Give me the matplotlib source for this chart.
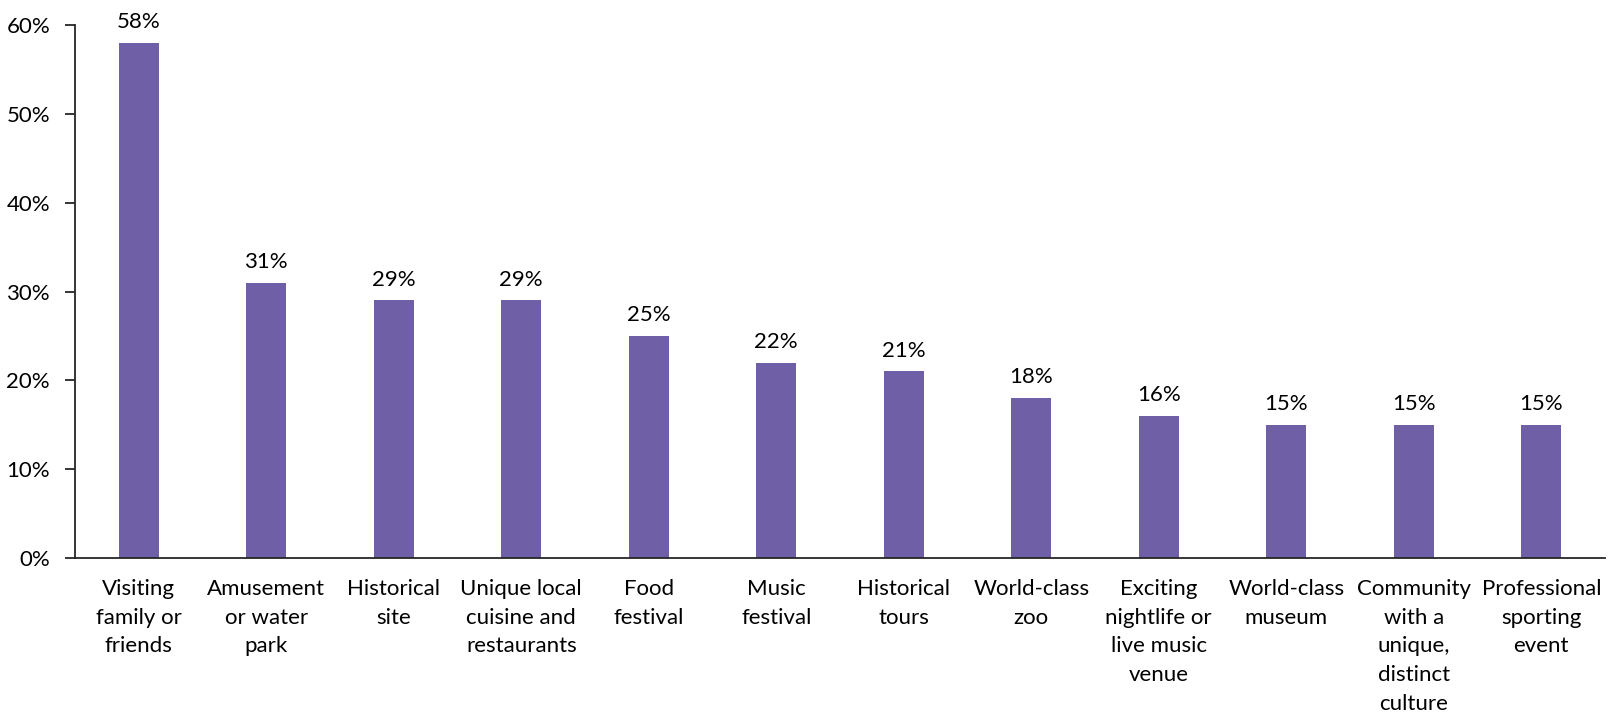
import matplotlib.pyplot as plt
from matplotlib.ticker import PercentFormatter

plt.rcParams["font.family"] = ["Lato", "DejaVu Sans"]

categories = [
    "Visiting\nfamily or\nfriends",
    "Amusement\nor water\npark",
    "Historical\nsite",
    "Unique local\ncuisine and\nrestaurants",
    "Food\nfestival",
    "Music\nfestival",
    "Historical\ntours",
    "World-class\nzoo",
    "Exciting\nnightlife or\nlive music\nvenue",
    "World-class\nmuseum",
    "Community\nwith a\nunique,\ndistinct\nculture",
    "Professional\nsporting\nevent",
]
shares = [58, 31, 29, 29, 25, 22, 21, 18, 16, 15, 15, 15]

fig = plt.figure(figsize=(16.12, 7.18), dpi=100)
ax = fig.add_axes([75 / 1612, 1 - 558 / 718, (1605 - 75) / 1612, (558 - 25) / 718])

x = range(len(categories))
bars = ax.bar(x, shares, width=0.31, color="#6E5FA6")
for rect, v in zip(bars, shares):
    ax.text(rect.get_x() + rect.get_width() / 2, v + 1.2, f"{v}%",
            ha="center", va="bottom", fontsize=16, color="#000000")

ax.set_xlim(-0.5, len(categories) - 0.5)
ax.set_ylim(0, 60)
ax.set_yticks(range(0, 61, 10))
ax.yaxis.set_major_formatter(PercentFormatter(decimals=0))
ax.set_xticks(list(x))
ax.set_xticklabels(categories, fontsize=16, linespacing=1.55, va="top")

for side in ("top", "right"):
    ax.spines[side].set_visible(False)
for side in ("left", "bottom"):
    ax.spines[side].set_color("#262626")
    ax.spines[side].set_linewidth(1.3)
ax.tick_params(axis="x", length=0, pad=15)
ax.tick_params(axis="y", length=7, width=1.3, color="#262626", labelsize=16, pad=11)

fig.savefig("out.png", dpi=100)
